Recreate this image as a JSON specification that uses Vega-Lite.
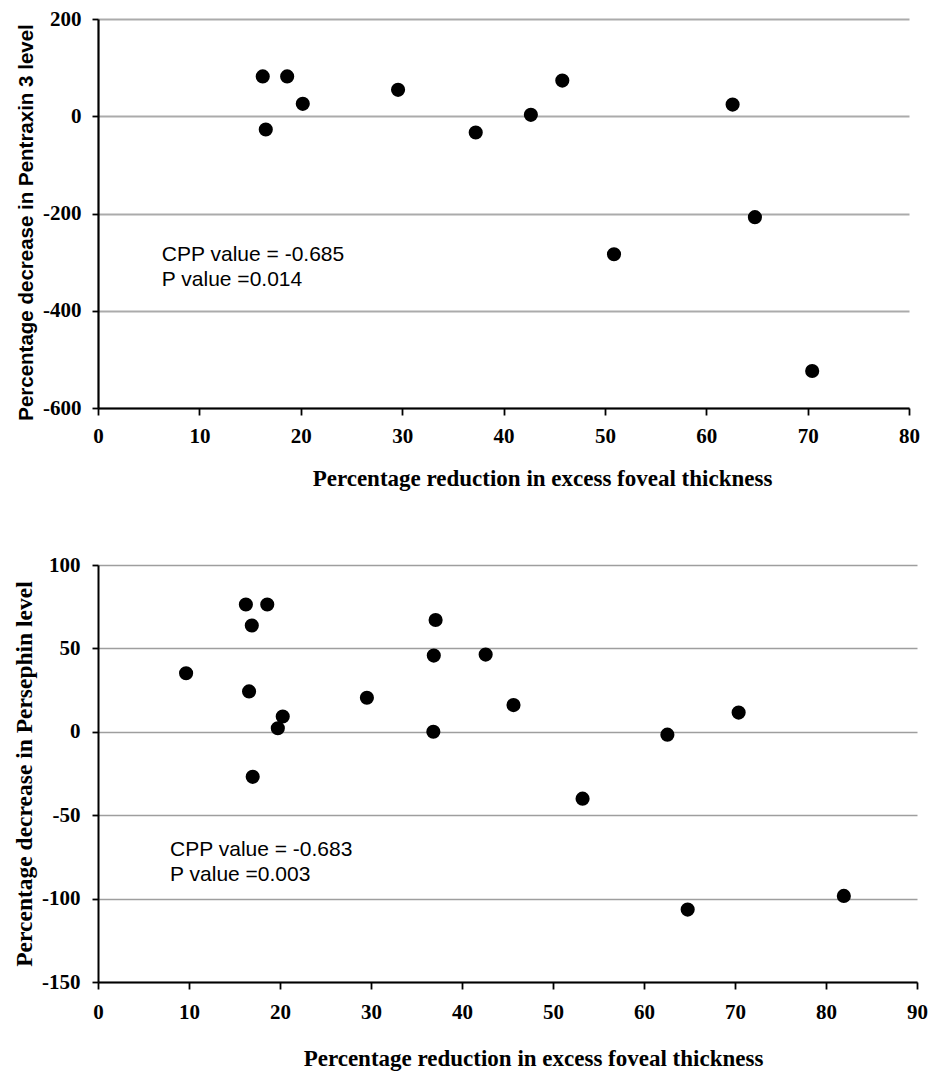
{
  "$schema": "https://vega.github.io/schema/vega-lite/v6.json",
  "background": "white",
  "padding": {"left": 12, "top": 8, "right": 10, "bottom": 5},
  "config": {"view": {"stroke": null}},
  "bounds": "flush",
  "spacing": 157,
  "datasets": {
    "pentraxin": [
      {"reduction": 16.25, "decrease": 82},
      {"reduction": 18.66, "decrease": 82},
      {"reduction": 20.2, "decrease": 25.5},
      {"reduction": 16.55, "decrease": -27.3},
      {"reduction": 29.6, "decrease": 54.3},
      {"reduction": 37.26, "decrease": -33.5},
      {"reduction": 42.7, "decrease": 2.9},
      {"reduction": 45.8, "decrease": 73.4},
      {"reduction": 62.6, "decrease": 24},
      {"reduction": 64.8, "decrease": -207.6},
      {"reduction": 50.9, "decrease": -283.7},
      {"reduction": 70.45, "decrease": -524}
    ],
    "notes_top": [
      {"reduction": 6.3, "decrease": -297, "label": "CPP value = -0.685"},
      {"reduction": 6.3, "decrease": -350, "label": "P value =0.014"}
    ],
    "persephin": [
      {"reduction": 9.68, "decrease": 35.1},
      {"reduction": 16.25, "decrease": 76.3},
      {"reduction": 18.6, "decrease": 76.3},
      {"reduction": 16.9, "decrease": 63.7},
      {"reduction": 16.6, "decrease": 24.2},
      {"reduction": 20.3, "decrease": 9.2},
      {"reduction": 19.76, "decrease": 2.1},
      {"reduction": 17.0, "decrease": -27},
      {"reduction": 29.55, "decrease": 20.4},
      {"reduction": 37.1, "decrease": 67.0},
      {"reduction": 36.9, "decrease": 45.7},
      {"reduction": 36.85, "decrease": 0},
      {"reduction": 42.6, "decrease": 46.3},
      {"reduction": 45.66, "decrease": 16.0},
      {"reduction": 53.25, "decrease": -40.1},
      {"reduction": 62.57, "decrease": -1.7},
      {"reduction": 70.4, "decrease": 11.5},
      {"reduction": 64.8, "decrease": -106.6},
      {"reduction": 81.96, "decrease": -98.4}
    ],
    "notes_bottom": [
      {"reduction": 7.92, "decrease": -74.3, "label": "CPP value = -0.683"},
      {"reduction": 7.92, "decrease": -89.2, "label": "P value =0.003"}
    ]
  },
  "vconcat": [
    {
      "width": 811,
      "height": 389,
      "layer": [
        {
          "data": {"name": "pentraxin"},
          "mark": {"type": "circle", "size": 200, "color": "black", "opacity": 1},
          "encoding": {
            "x": {
              "field": "reduction", "type": "quantitative",
              "scale": {"domain": [0, 80], "nice": false, "zero": false},
              "axis": {
                "title": "Percentage reduction in excess foveal thickness",
                "values": [0, 10, 20, 30, 40, 50, 60, 70, 80],
                "labelExpr": "'' + datum.value",
                "grid": false, "labelFlush": false, "labelOverlap": false,
                "domainColor": "black", "domainWidth": 2.2,
                "tickColor": "black", "tickWidth": 1.8, "tickSize": 7,
                "labelFont": "Liberation Serif", "labelFontWeight": "bold", "labelFontSize": 21, "labelColor": "black", "labelPadding": 10,
                "titleFont": "Liberation Serif", "titleFontWeight": "bold", "titleFontSize": 23, "titleColor": "black", "titlePadding": 21,
                "titleX": 444
              }
            },
            "y": {
              "field": "decrease", "type": "quantitative",
              "scale": {"domain": [-600, 200], "nice": false, "zero": false},
              "axis": {
                "title": "Percentage decrease in Pentraxin 3 level",
                "values": [-600, -400, -200, 0, 200],
                "labelExpr": "'' + datum.value",
                "grid": true, "gridColor": "#ababab", "gridWidth": 2,
                "labelFlush": false, "labelOverlap": false,
                "domainColor": "black", "domainWidth": 2.2,
                "tickColor": "black", "tickWidth": 1.8, "tickSize": 6,
                "labelFont": "Liberation Serif", "labelFontWeight": "bold", "labelFontSize": 21, "labelColor": "black", "labelPadding": 11,
                "titleFont": "Liberation Sans", "titleFontWeight": "bold", "titleFontSize": 20.5, "titleColor": "black", "titlePadding": 6,
                "titleY": 203
              }
            }
          }
        },
        {
          "data": {"name": "notes_top"},
          "mark": {"type": "text", "align": "left", "baseline": "alphabetic", "font": "Liberation Sans", "fontSize": 21, "color": "black"},
          "encoding": {
            "x": {"field": "reduction", "type": "quantitative"},
            "y": {"field": "decrease", "type": "quantitative"},
            "text": {"field": "label"}
          }
        }
      ]
    },
    {
      "width": 819,
      "height": 417,
      "layer": [
        {
          "data": {"name": "persephin"},
          "mark": {"type": "circle", "size": 200, "color": "black", "opacity": 1},
          "encoding": {
            "x": {
              "field": "reduction", "type": "quantitative",
              "scale": {"domain": [0, 90], "nice": false, "zero": false},
              "axis": {
                "title": "Percentage reduction in excess foveal thickness",
                "values": [0, 10, 20, 30, 40, 50, 60, 70, 80, 90],
                "labelExpr": "'' + datum.value",
                "grid": false, "labelFlush": false, "labelOverlap": false,
                "domainColor": "black", "domainWidth": 2,
                "tickColor": "black", "tickWidth": 1.8, "tickSize": 7,
                "labelFont": "Liberation Serif", "labelFontWeight": "bold", "labelFontSize": 21, "labelColor": "black", "labelPadding": 12,
                "titleFont": "Liberation Serif", "titleFontWeight": "bold", "titleFontSize": 23, "titleColor": "black", "titlePadding": 25,
                "titleX": 435
              }
            },
            "y": {
              "field": "decrease", "type": "quantitative",
              "scale": {"domain": [-150, 100], "nice": false, "zero": false},
              "axis": {
                "title": "Percentage decrease in Persephin level",
                "values": [-150, -100, -50, 0, 50, 100],
                "labelExpr": "'' + datum.value",
                "grid": true, "gridColor": "#9e9e9e", "gridWidth": 1.5,
                "labelFlush": false, "labelOverlap": false,
                "domainColor": "black", "domainWidth": 2,
                "tickColor": "black", "tickWidth": 1.8, "tickSize": 6,
                "labelFont": "Liberation Serif", "labelFontWeight": "bold", "labelFontSize": 21, "labelColor": "black", "labelPadding": 12,
                "titleFont": "Liberation Serif", "titleFontWeight": "bold", "titleFontSize": 23.5, "titleColor": "black", "titlePadding": 5
              }
            }
          }
        },
        {
          "data": {"name": "notes_bottom"},
          "mark": {"type": "text", "align": "left", "baseline": "alphabetic", "font": "Liberation Sans", "fontSize": 21, "color": "black"},
          "encoding": {
            "x": {"field": "reduction", "type": "quantitative"},
            "y": {"field": "decrease", "type": "quantitative"},
            "text": {"field": "label"}
          }
        }
      ]
    }
  ]
}
